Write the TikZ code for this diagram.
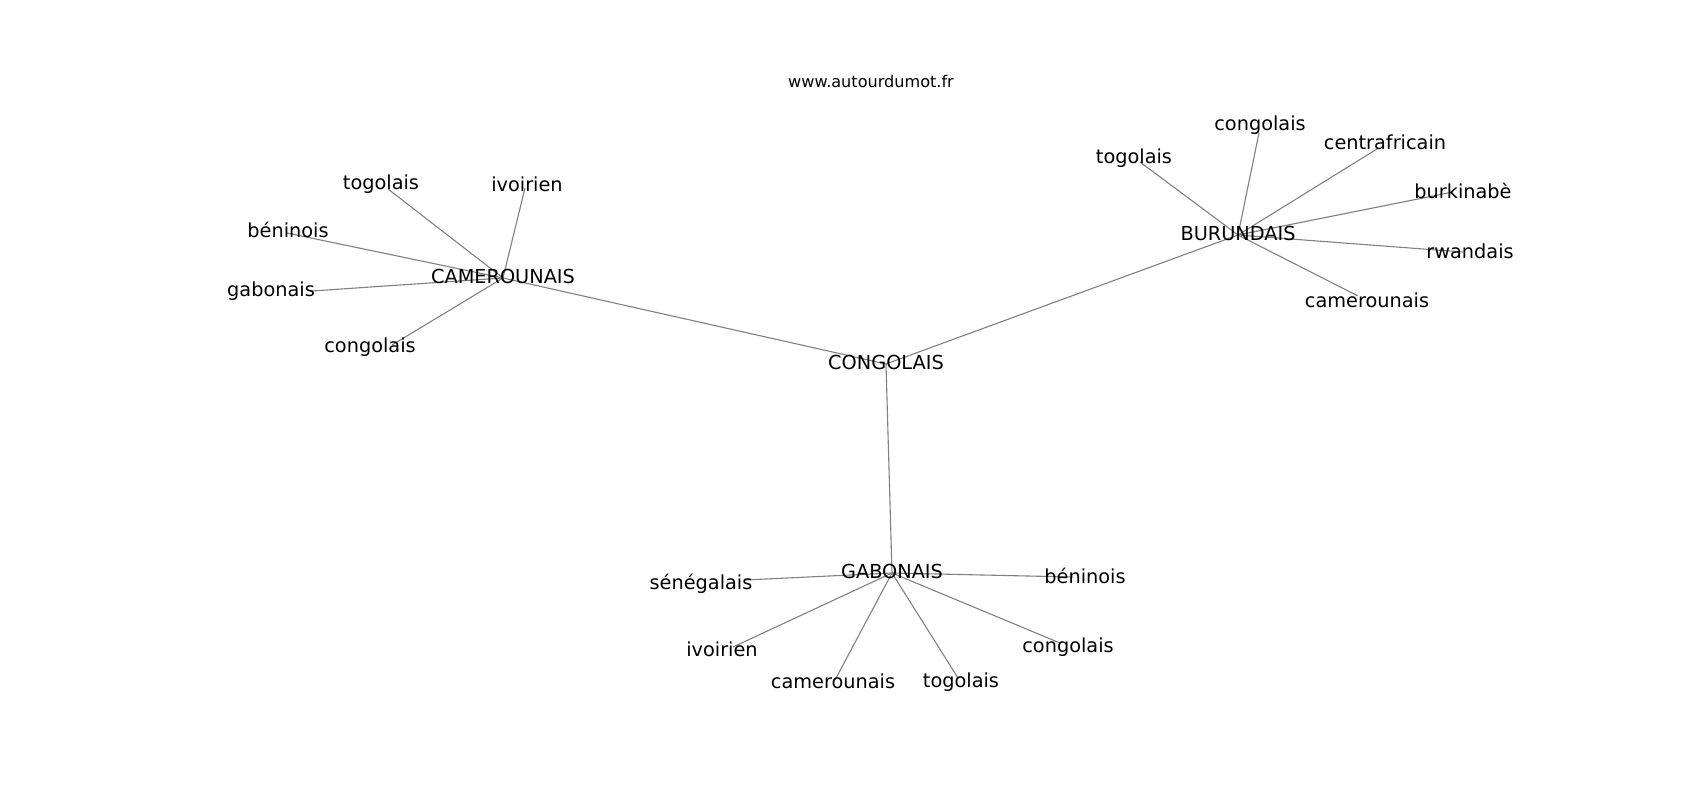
\documentclass[tikz,border=0pt]{standalone}
\usepackage{fontspec}
\setmainfont{DejaVu Sans}
\usepackage{tikz}
\usetikzlibrary{
  positioning,
  backgrounds
}

\begin{document}
\begin{tikzpicture}[x=1pt,y=-1pt,
  hub/.style={inner sep=0pt,font=\fontsize{19.3}{23}\selectfont,text height=14.67pt,text depth=4.55pt},
  leaf/.style={inner sep=0pt,font=\fontsize{19.3}{23}\selectfont,anchor=base},
  edge/.style={draw={rgb,255:red,128;green,128;blue,128},line width=1.1pt}]
  \useasboundingbox (0,0) rectangle (1700,800);
  \node[inner sep=0pt,anchor=base,font=\fontsize{16.1}{19}\selectfont] (t) at (871,88) {www.autourdumot.fr};

  % centres
  \node[hub] (0) at (886,364) {CONGOLAIS};
  \node[hub] (1) at (503,278) {CAMEROUNAIS};
  \node[hub] (2) at (1238,235) {BURUNDAIS};
  \node[hub] (3) at (892,573) {GABONAIS};

  % CAMEROUNAIS
  \coordinate (e4) at (388,189);  \node[leaf] (4) at (381,189) {togolais};
  \coordinate (e5) at (525,188);  \node[leaf] (5) at (527,191) {ivoirien};
  \coordinate (e6) at (287,233);  \node[leaf] (6) at (288,237) {béninois};
  \coordinate (e7) at (312,291);  \node[leaf] (7) at (271,296) {gabonais};
  \coordinate (e8) at (392,345);  \node[leaf] (8) at (370,352) {congolais};

  % BURUNDAIS
  \coordinate (e9) at (1259,133);  \node[leaf] (9) at (1260,130) {congolais};
  \coordinate (e10) at (1140,162); \node[leaf] (10) at (1134,163) {togolais};
  \coordinate (e11) at (1377,149); \node[leaf] (11) at (1385,149) {centrafricain};
  \coordinate (e12) at (1453,192); \node[leaf] (12) at (1463,198) {burkinabè};
  \coordinate (e13) at (1463,252); \node[leaf] (13) at (1470,258) {rwandais};
  \coordinate (e14) at (1358,296); \node[leaf] (14) at (1367,307) {camerounais};

  % GABONAIS
  \coordinate (e15) at (745,580);  \node[leaf] (15) at (701,589) {sénégalais};
  \coordinate (e16) at (1073,577); \node[leaf] (16) at (1085,583) {béninois};
  \coordinate (e17) at (733,647);  \node[leaf] (17) at (722,656) {ivoirien};
  \coordinate (e18) at (1060,643); \node[leaf] (18) at (1068,652) {congolais};
  \coordinate (e19) at (835,680);  \node[leaf] (19) at (833,688) {camerounais};
  \coordinate (e20) at (958,678);  \node[leaf] (20) at (961,687) {togolais};

  \begin{scope}[on background layer]
    \draw[edge] (0.center) -- (1.center);
    \draw[edge] (0.center) -- (2.center);
    \draw[edge] (0.center) -- (3.center);
    \draw[edge] (1.center) -- (e4);
    \draw[edge] (1.center) -- (e5);
    \draw[edge] (1.center) -- (e6);
    \draw[edge] (1.center) -- (e7);
    \draw[edge] (1.center) -- (e8);
    \draw[edge] (2.center) -- (e9);
    \draw[edge] (2.center) -- (e10);
    \draw[edge] (2.center) -- (e11);
    \draw[edge] (2.center) -- (e12);
    \draw[edge] (2.center) -- (e13);
    \draw[edge] (2.center) -- (e14);
    \draw[edge] (3.center) -- (e15);
    \draw[edge] (3.center) -- (e16);
    \draw[edge] (3.center) -- (e17);
    \draw[edge] (3.center) -- (e18);
    \draw[edge] (3.center) -- (e19);
    \draw[edge] (3.center) -- (e20);
  \end{scope}
\end{tikzpicture}
\end{document}
